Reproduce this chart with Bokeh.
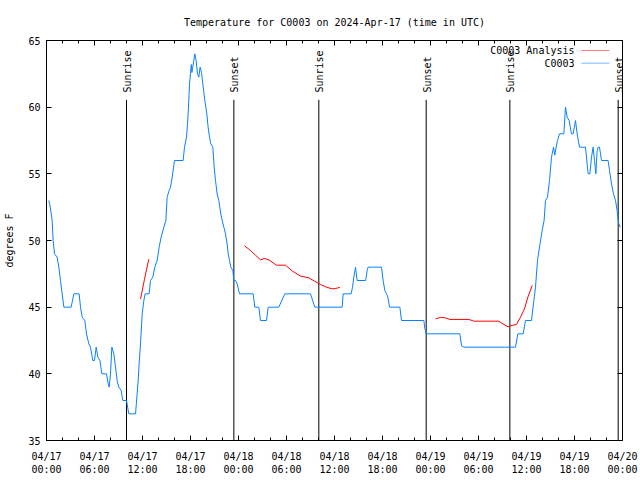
import math
from bokeh.plotting import figure
from bokeh.models import Range1d, FixedTicker, LinearAxis, Label, BoxAnnotation
from bokeh.core.properties import value
from bokeh.embed import file_html
from bokeh.resources import INLINE

NaN = float("nan")

# ---- data (hours since 2024-04-17 00:00 UTC, degrees F) ----
station_hours = [0.29, 0.42, 0.71, 0.83, 1.0, 1.33, 1.54, 1.75, 1.96, 2.17, 3.08, 3.42, 4.08, 4.25, 4.46,
                 4.79, 5.0, 5.29, 5.5, 5.79, 6.0, 6.21, 6.42, 6.67, 6.92, 7.5, 7.71, 7.83, 8.0, 8.17, 8.42,
                 8.63, 8.83, 9.04, 9.33, 9.54, 10.0, 10.29, 11.13, 11.33, 11.46, 11.58, 11.75, 11.96, 12.17,
                 12.33, 12.83, 13.0, 13.29, 13.54, 13.83, 14.08, 14.33, 14.67, 14.92, 15.08, 15.33, 15.5,
                 15.71, 16.0, 17.08, 17.25, 17.5, 17.625, 17.75, 17.875, 18.0, 18.1, 18.17, 18.29, 18.54,
                 18.7, 18.875, 19.04, 19.2, 19.375, 19.54, 19.79, 20.04, 20.2, 20.375, 20.54, 20.79, 20.96,
                 21.125, 21.33, 21.54, 21.79, 21.96, 22.17, 22.375, 22.58, 22.71, 22.875, 23.04, 23.29,
                 23.42, 23.625, 23.83, 24.125, 25.83, 26.04, 26.54, 26.75, 27.5, 27.71, 29.04, 29.79, 33.0,
                 33.54, 36.96, 37.08, 38.08, 38.25, 38.42, 38.625, 38.83, 39.9, 40.08, 40.2, 41.875, 42.08,
                 42.29, 42.5, 42.67, 42.875, 44.17, 44.375, 47.17, 47.29, 47.46, 51.67, 51.875, 52.17,
                 58.625, 58.92, 59.58, 59.875, 60.625, 60.92, 61.125, 61.375, 61.625, 61.96, 62.2, 62.375,
                 62.625, 62.875, 63.125, 63.375, 63.54, 63.7, 63.875, 64.125, 64.67, 64.875, 65.08, 65.33,
                 65.625, 65.83, 66.125, 66.33, 66.625, 67.375, 67.58, 67.71, 67.92, 68.125, 68.33, 68.5,
                 68.67, 68.83, 68.96, 69.125, 69.375, 70.2, 70.375, 70.625, 70.875, 71.125, 71.33, 71.46,
                 71.54, 71.71]
station_temps = [53, 52.7, 51.5, 50, 49, 48.75, 48, 47, 46, 45, 45, 46, 46, 45, 44.25,
                 44, 43, 42.25, 42, 41, 41, 42, 41.25, 41, 40, 40, 39.25, 39, 40, 42, 41.5,
                 40.5, 39.5, 39, 38.75, 38, 38, 37, 37, 38.5, 39.5, 40.75, 42.25, 44.5, 45.5,
                 46, 46, 47, 47.25, 48, 48.5, 49.5, 50.25, 51, 51.5, 53.25, 53.75, 54,
                 54.75, 56, 56, 57, 57.75, 58.75, 60, 61.75, 62.5, 63.2, 62.6, 63, 64,
                 63.5, 62.5, 62.25, 63, 62.6, 61.75, 60.5, 59.5, 58.5, 57.75, 57.25, 57, 55.5,
                 54.5, 53.5, 53, 52, 51.5, 51, 50.5, 49.75, 49, 48.5, 48, 47.75,
                 47, 47, 46.75, 46, 46, 45, 45, 44, 44, 45, 45, 46, 46,
                 45, 45, 46, 46, 46.5, 47.25, 48, 47, 47, 47.75, 48, 48, 47,
                 46.25, 46, 45.75, 45, 45, 44, 44, 43.4, 43, 43, 42.1, 42,
                 42, 43, 43, 44, 44, 45.5, 46.5, 48.5, 49.5, 50.75, 51.5, 53,
                 53.25, 54.5, 56.25, 57, 56.4, 57, 57.5, 58, 58, 60, 59.25, 59,
                 58, 58, 59, 58, 57, 57, 55.75, 55, 55, 56.25, 57, 56,
                 55, 56.75, 57, 57, 56, 56, 55.25, 54.25, 53.5, 53, 52.25, 51.5,
                 51.25, 51]

analysis_hours = [11.75, 12.25, 12.79, NaN,
                  24.75, 25.5, 26.125, 26.75, 27.25, 27.79, 28.75, 29.875, 30.75, 31.75, 32.79, 33.5,
                  34.25, 35.0, 35.7, 36.1, 36.67, NaN,
                  48.625, 49.25, 49.875, 50.42, 52.8, 53.42, 56.54, 57.17, 57.67, 58.2, 58.75, 59.25,
                  59.75, 60.17, 60.71]
analysis_temps = [45.6, 47.1, 48.6, NaN,
                  49.6, 49.25, 48.9, 48.55, 48.65, 48.55, 48.15, 48.15, 47.7, 47.33, 47.2, 46.95,
                  46.7, 46.5, 46.375, 46.4, 46.48, NaN,
                  44.13, 44.23, 44.2, 44.08, 44.08, 43.95, 43.95, 43.7, 43.53, 43.63, 43.7, 44.25,
                  44.88, 45.75, 46.63]

sun_hours = [10.0, 23.42, 34.04, 47.46, 57.92, 71.46]
sun_labels = ["Sunrise", "Sunset", "Sunrise", "Sunset", "Sunrise", "Sunset"]

x_ticks = [0, 6, 12, 18, 24, 30, 36, 42, 48, 54, 60, 66, 72]
x_minor_ticks = list(range(0, 73, 2))
x_tick_labels = ["04/17\n00:00", "04/17\n06:00", "04/17\n12:00", "04/17\n18:00",
                 "04/18\n00:00", "04/18\n06:00", "04/18\n12:00", "04/18\n18:00",
                 "04/19\n00:00", "04/19\n06:00", "04/19\n12:00", "04/19\n18:00",
                 "04/20\n00:00"]
y_ticks = [35, 40, 45, 50, 55, 60, 65]

title_text = "Temperature for C0003 on 2024-Apr-17 (time in UTC)"
series_names = ["C0003 Analysis", "C0003"]
series_colors = ["#ff0000", "#0a80ff"]

FONT = "DejaVu Sans Mono"
FS = "10px"

p = figure(width=640, height=480, output_backend="svg", toolbar_location=None,
           x_range=Range1d(0, 72), y_range=Range1d(35, 65),
           min_border_left=46, min_border_right=18, min_border_top=40, min_border_bottom=40)
p.background_fill_color = "white"
p.border_fill_color = "white"
p.outline_line_color = "black"
p.outline_line_width = 1
p.xgrid.visible = False
p.ygrid.visible = False

p.title.text = title_text
p.title.text_font = FONT
p.title.text_font_size = FS
p.title.text_font_style = "normal"
p.title.text_color = "black"
p.title.align = "center"
p.title.vertical_align = "top"
p.title.standoff = 22

xt = FixedTicker(ticks=x_ticks, minor_ticks=x_minor_ticks)
yt = FixedTicker(ticks=y_ticks, minor_ticks=[])

xa = p.xaxis[0]
xa.ticker = xt
xa.major_label_overrides = {t: l for t, l in zip(x_ticks, x_tick_labels)}
xa.major_tick_in = 5
xa.major_tick_out = 0
xa.minor_tick_in = 3
xa.minor_tick_out = 0
xa.major_label_standoff = 10
xa.major_label_text_font = FONT
xa.major_label_text_font_size = FS
xa.major_label_text_color = "black"
xa.major_label_text_line_height = 1.2

ya = p.yaxis[0]
ya.ticker = yt
ya.major_tick_in = 5
ya.major_tick_out = 0
ya.minor_tick_line_color = None
ya.major_label_standoff = 6
ya.major_label_text_font = FONT
ya.major_label_text_font_size = FS
ya.major_label_text_color = "black"
ya.axis_label = "degrees F"
ya.axis_label_text_font = FONT
ya.axis_label_text_font_size = FS
ya.axis_label_text_font_style = "normal"
ya.axis_label_text_color = "black"
ya.axis_label_standoff = 10

top = LinearAxis(ticker=xt, major_tick_in=5, major_tick_out=0, minor_tick_in=3, minor_tick_out=0,
                 major_label_text_color=None, major_label_standoff=0)
right = LinearAxis(ticker=yt, major_tick_in=5, major_tick_out=0, minor_tick_line_color=None,
                   major_label_text_color=None, major_label_standoff=0)
p.add_layout(top, "above")
p.add_layout(right, "right")

# sunrise / sunset markers
line_top = 60.55
label_start = 61.1
p.segment(x0=sun_hours, y0=[35] * len(sun_hours), x1=sun_hours, y1=[line_top] * len(sun_hours),
          line_color="black", line_width=1)
p.text(x=sun_hours, y=[label_start] * len(sun_hours), text=sun_labels, angle=math.pi / 2,
       text_align="left", text_baseline="middle", x_offset=1,
       text_font=value(FONT), text_font_size=value(FS), text_color="black")

# series
p.line(station_hours, station_temps, line_color=series_colors[1], line_width=1)
p.line(analysis_hours, analysis_temps, line_color=series_colors[0], line_width=1)

# legend (gnuplot style: label then sample)
leg_x_text = 66.0
leg_x0, leg_x1 = 66.875, 70.375
leg_y = [64.25, 63.3]
for name, col, yy in zip(series_names, series_colors, leg_y):
    p.add_layout(Label(x=leg_x_text, y=yy, text=name, text_align="right", text_baseline="middle",
                       text_font=FONT, text_font_size=FS, text_color="black"))
    p.add_layout(BoxAnnotation(left=leg_x0, right=leg_x1, bottom=yy, top=yy, fill_alpha=0,
                               line_color=col, line_width=1))

open("out.html", "w").write(file_html(p, INLINE))
